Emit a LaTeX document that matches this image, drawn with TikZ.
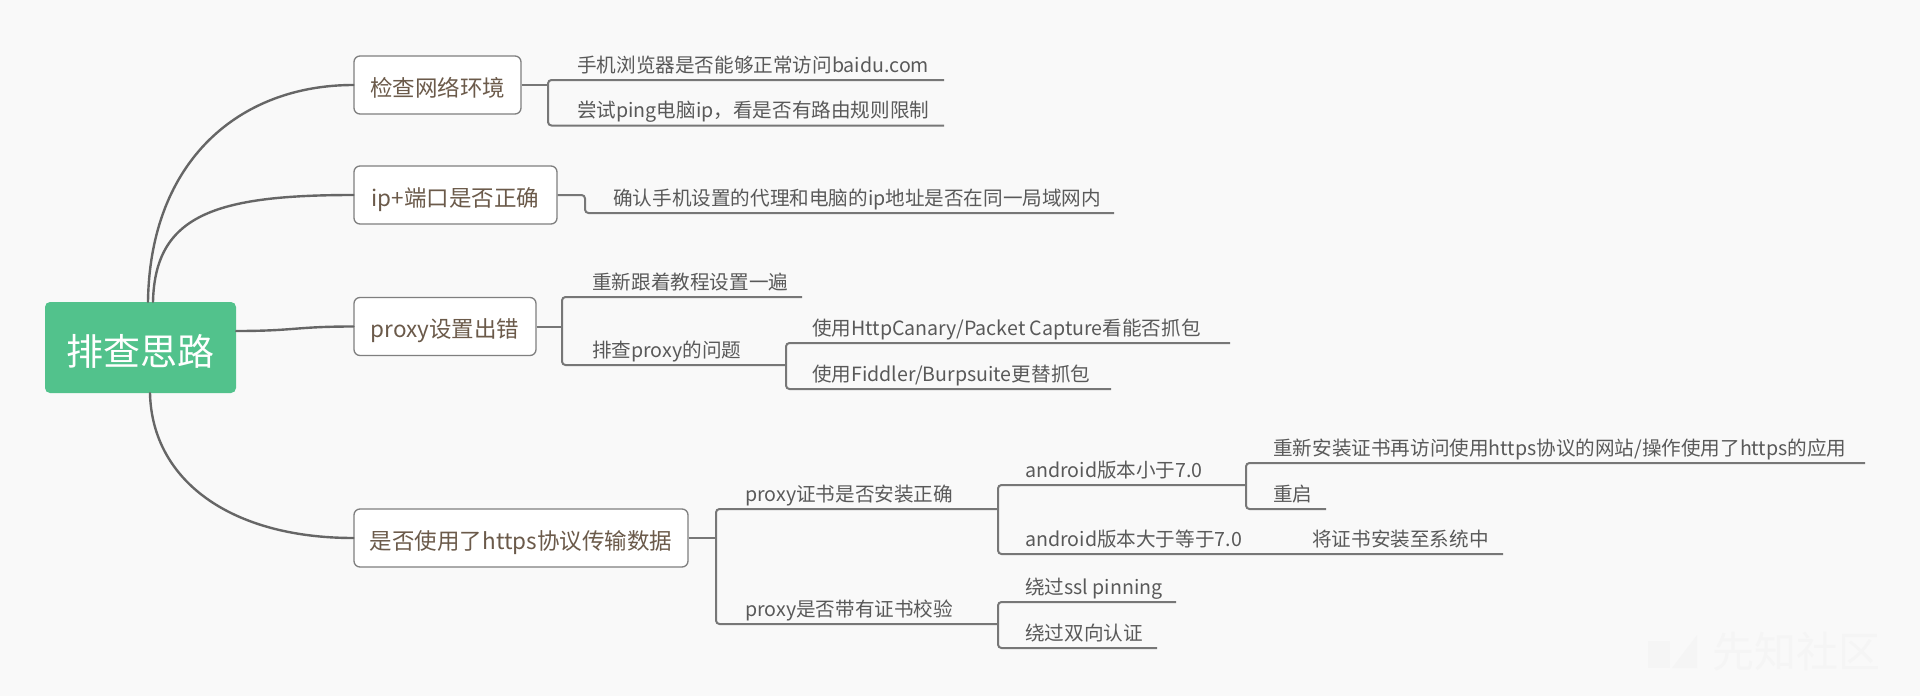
\documentclass[tikz,border=0pt]{standalone}
\usepackage{fontspec}
\setmainfont{Noto Sans CJK SC}
\definecolor{bggray}{HTML}{F9F9F9}
\definecolor{rootgreen}{HTML}{52C28C}
\definecolor{trunkgray}{HTML}{666666}
\definecolor{twiggray}{HTML}{777777}
\definecolor{boxborder}{HTML}{7F7F7F}
\definecolor{topicbrown}{HTML}{6B5A4A}
\definecolor{leafgray}{HTML}{595959}
\definecolor{wmgray}{HTML}{F5F5F5}
\begin{document}
\begin{tikzpicture}[x=1pt,y=-1pt,
  trunk/.style={draw=trunkgray, line width=2.4pt, line cap=round},
  twig/.style={draw=twiggray, line width=2pt, rounded corners=3.5pt},
  rootbox/.style={fill=rootgreen, rounded corners=5pt, inner sep=0pt,
    minimum width=191pt, minimum height=91pt, text=white,
    font=\fontsize{37}{41}\selectfont, text height=36pt, text depth=0pt},
  topicbox/.style={draw=boxborder, fill=white, line width=1.3pt,
    rounded corners=6pt, inner sep=0pt, minimum height=58pt,
    text=topicbrown, font=\fontsize{22.5}{26}\selectfont,
    text height=22pt, text depth=0pt},
  leaf/.style={anchor=base west, inner sep=0pt, text=leafgray,
    font=\fontsize{19.6}{24}\selectfont},
]
% canvas
\fill[bggray] (0,0) rectangle (1920,696);
\useasboundingbox (0,0) rectangle (1920,696);

% faint site mark in the corner
\fill[wmgray] (1648,641) rectangle (1670,668);
\fill[wmgray] (1672,668) -- (1697,635) -- (1697,668) -- cycle;
\node[text=wmgray, anchor=west, inner sep=0pt,
  font=\fontsize{42}{46}\selectfont] (mark) at (1712,652) {先知社区};

% central topic and main topics
\node[rootbox] (root) at (140.5,347.5) {排查思路};
\node[topicbox, minimum width=167pt] (net) at (437.5,85) {检查网络环境};
\node[topicbox, minimum width=203pt] (port) at (455.5,195) {ip+端口是否正确};
\node[topicbox, minimum width=182pt] (proxy) at (445,326.5) {proxy设置出错};
\node[topicbox, minimum width=334pt] (https) at (521,538) {是否使用了https协议传输数据};

% curved branches from the central topic
\draw[trunk] ([xshift=7.5pt]root.north) .. controls (150,160) and (240,85) .. (net.west);
\draw[trunk] ([xshift=12.5pt]root.north) .. controls (155,215) and (215,195) .. (port.west);
\draw[trunk] ([yshift=16.5pt]root.east) .. controls (295,331) and (295,326.5) .. (proxy.west);
\draw[trunk] ([xshift=9.5pt]root.south) .. controls (152,480) and (230,538) .. (https.west);

% branch: network
\draw[twig] (net.east) -- (548,85);
\draw[twig] (944,80) -- (548,80) -- (548,125.5) -- (944,125.5);
\node[leaf] (n1) at (577,72) {手机浏览器是否能够正常访问baidu.com};
\node[leaf] (n2) at (577,117.5) {尝试ping电脑ip，看是否有路由规则限制};

% branch: ip and port
\draw[twig] (port.east) -- (585,195) -- (585,213) -- (1114,213);
\node[leaf] (p1) at (613,205) {确认手机设置的代理和电脑的ip地址是否在同一局域网内};

% branch: proxy settings
\draw[twig] (proxy.east) -- (562,326.5);
\draw[twig] (802,297) -- (562,297) -- (562,365) -- (786,365);
\draw[twig] (1230,343) -- (786,343) -- (786,389) -- (1111,389);
\node[leaf] (x1) at (592,289) {重新跟着教程设置一遍};
\node[leaf] (x2) at (592,357) {排查proxy的问题};
\node[leaf] (x21) at (812,335) {使用HttpCanary/Packet Capture看能否抓包};
\node[leaf] (x22) at (812,381) {使用Fiddler/Burpsuite更替抓包};

% branch: https
\draw[twig] (https.east) -- (716,538);
\draw[twig] (998,509) -- (716,509) -- (716,624) -- (998,624);
\draw[twig] (1246,485) -- (998,485) -- (998,554) -- (1503,554);
\draw[twig] (1865,463) -- (1246,463) -- (1246,509) -- (1326,509);
\draw[twig] (1176,602) -- (998,602) -- (998,648) -- (1157,648);
\node[leaf] (h1) at (745,501) {proxy证书是否安装正确};
\node[leaf] (h2) at (745,616) {proxy是否带有证书校验};
\node[leaf] (h11) at (1025,477) {android版本小于7.0};
\node[leaf] (h12) at (1025,546) {android版本大于等于7.0};
\node[leaf] (h111) at (1273,455) {重新安装证书再访问使用https协议的网站/操作使用了https的应用};
\node[leaf] (h112) at (1273,501) {重启};
\node[leaf] (h121) at (1312,546) {将证书安装至系统中};
\node[leaf] (h21) at (1025,594) {绕过ssl pinning};
\node[leaf] (h22) at (1025,640) {绕过双向认证};
\end{tikzpicture}
\end{document}
